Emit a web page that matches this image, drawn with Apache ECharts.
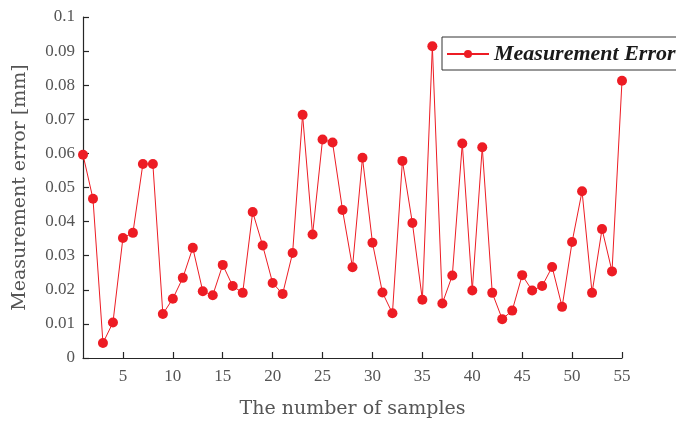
<!DOCTYPE html>
<html>
<head>
<meta charset="utf-8">
<script src="https://cdn.jsdelivr.net/npm/echarts@6/dist/echarts.min.js"></script>
<style>
  html, body { margin: 0; padding: 0; background: #fff; }
  #chart { width: 676px; height: 422px; }
</style>
</head>
<body>
<div id="chart"></div>
<script>
// Sample indices and measured error per sample (mm)
const sampleIndex = Array.from({ length: 55 }, (_, i) => i + 1);
const errorValues = [
  0.0596, 0.0467, 0.0044, 0.0104, 0.0352, 0.0367, 0.0569, 0.0569, 0.0129, 0.0174,
  0.0235, 0.0323, 0.0196, 0.0184, 0.0273, 0.0211, 0.0191, 0.0428, 0.0330, 0.0220,
  0.0188, 0.0308, 0.0713, 0.0362, 0.0641, 0.0632, 0.0434, 0.0266, 0.0587, 0.0338,
  0.0192, 0.0131, 0.0578, 0.0396, 0.0171, 0.0914, 0.0160, 0.0242, 0.0629, 0.0198,
  0.0618, 0.0191, 0.0114, 0.0139, 0.0243, 0.0198, 0.0211, 0.0267, 0.0150, 0.0340,
  0.0489, 0.0191, 0.0378, 0.0254, 0.0813
];
const xTicks = [5, 10, 15, 20, 25, 30, 35, 40, 45, 50, 55];
const seriesName = 'Measurement Error';
const xTitle = 'The number of samples';
const yTitle = 'Measurement error [mm]';

const FONT = '"Liberation Serif", "DejaVu Serif", serif';
const TITLE_FONT = '"DejaVu Serif", "Liberation Serif", serif';
const RED = '#ed1c24';
const AXIS = '#262626';
const LABEL = '#555555';

const chart = echarts.init(document.getElementById('chart'), null, { renderer: 'canvas' });
chart.setOption({
  backgroundColor: '#ffffff',
  animation: false,
  grid: { left: 83, right: 54, top: 17, bottom: 64, containLabel: false, outerBoundsMode: 'none' },
  legend: {
    data: [seriesName],
    left: 442,
    top: 37,
    orient: 'horizontal',
    itemWidth: 42,
    itemHeight: 10,
    itemGap: 4,
    padding: [6, 6, 5, 4],
    borderColor: '#333333',
    borderWidth: 1,
    backgroundColor: '#ffffff',
    textStyle: {
      fontFamily: FONT,
      fontStyle: 'italic',
      fontWeight: 'bold',
      fontSize: 22,
      color: '#1a1a1a'
    }
  },
  xAxis: {
    type: 'value',
    min: 1,
    max: 55,
    name: xTitle,
    nameLocation: 'middle',
    nameGap: 42,
    nameTextStyle: { fontFamily: TITLE_FONT, fontSize: 19, color: LABEL },
    splitLine: { show: false },
    axisLine: { show: true, onZero: false, lineStyle: { color: AXIS, width: 1.2 } },
    axisTick: { show: true, inside: true, length: 6, customValues: xTicks, lineStyle: { color: AXIS, width: 1.2 } },
    axisLabel: { customValues: xTicks, margin: 10, fontFamily: FONT, fontSize: 17, color: LABEL }
  },
  yAxis: {
    type: 'value',
    min: 0,
    max: 0.1,
    interval: 0.01,
    name: yTitle,
    nameLocation: 'middle',
    nameGap: 53,
    nameTextStyle: { fontFamily: TITLE_FONT, fontSize: 19, color: LABEL },
    splitLine: { show: false },
    axisLine: { show: true, lineStyle: { color: AXIS, width: 1.2 } },
    axisTick: { show: true, inside: true, length: 6, lineStyle: { color: AXIS, width: 1.2 } },
    axisLabel: {
      margin: 8,
      fontFamily: FONT,
      fontSize: 17,
      color: LABEL,
      formatter: v => String(parseFloat(v.toFixed(2)))
    }
  },
  series: [{
    name: seriesName,
    type: 'line',
    data: sampleIndex.map((x, i) => [x, errorValues[i]]),
    symbol: 'circle',
    symbolSize: 10,
    showAllSymbol: true,
    clip: false,
    lineStyle: { color: RED, width: 1 },
    itemStyle: { color: RED }
  }]
});
</script>
</body>
</html>
